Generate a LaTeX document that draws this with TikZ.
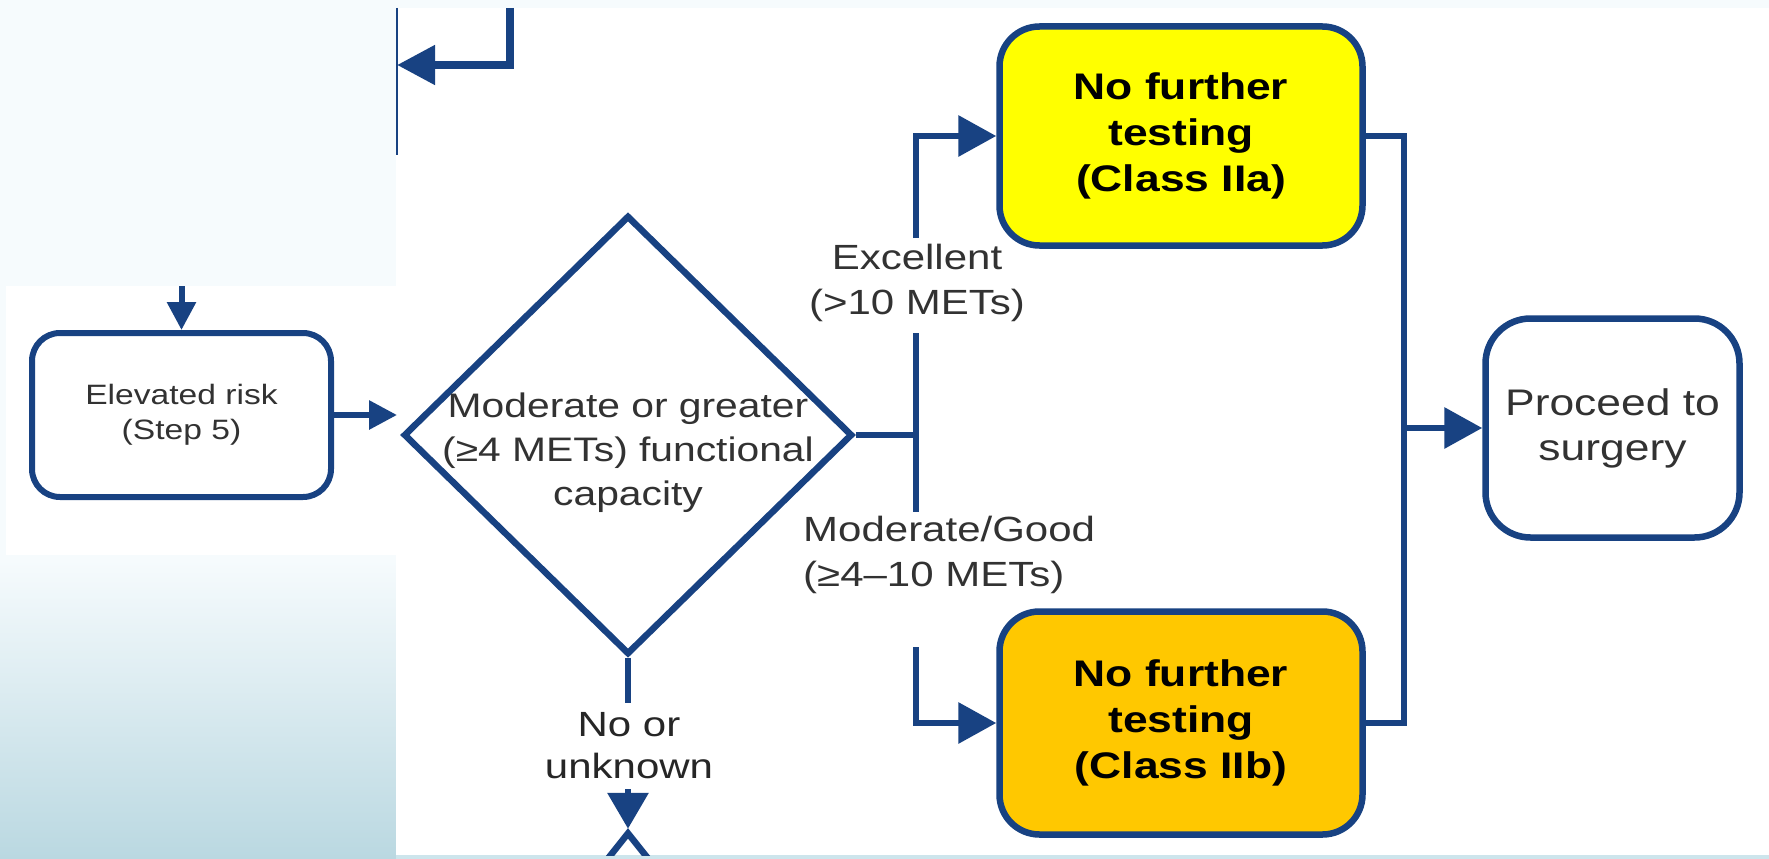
\documentclass[tikz,border=0pt]{standalone}
\usepackage{fontspec}
\setmainfont{Liberation Sans}[FakeStretch=1.2]
\usetikzlibrary{arrows.meta,shapes.geometric}

\definecolor{flow}{RGB}{24,66,130}
\definecolor{ink}{RGB}{50,50,50}
\definecolor{pale}{RGB}{246,251,253}
\definecolor{tealdeep}{RGB}{186,216,225}
\definecolor{teallight}{RGB}{205,229,236}
\definecolor{classIIa}{RGB}{255,255,0}
\definecolor{classIIb}{RGB}{255,200,0}

\tikzset{
  conn/.style={draw=flow, line width=6.5pt, line join=miter},
  connarrow/.style={conn, -{Triangle[length=38pt,width=40pt]}},
  smallarrow/.style={draw=flow, line width=6pt, -{Triangle[length=28pt,width=28pt]}},
  stepbox/.style={draw=flow, line width=6.5pt, rounded corners=40pt, align=center,
    inner sep=0pt, text=ink},
  classbox/.style={stepbox, font=\fontsize{37}{46}\selectfont\bfseries, text=black},
  decision/.style={draw=flow, line width=6.5pt, diamond, inner sep=0pt},
  branchlabel/.style={font=\fontsize{35}{45}\selectfont, text=ink, inner sep=0pt},
}

\begin{document}
\begin{tikzpicture}[x=1pt,y=-1pt]
\useasboundingbox (0,0) rectangle (1769,859);

% slide background and white panels
\fill[pale] (0,0) rectangle (1769,859);
\shade[top color=pale, bottom color=tealdeep] (0,560) rectangle (396,859);
\fill[teallight] (396,855) rectangle (1769,859);
\fill[white] (396,8) rectangle (1769,855);
\fill[white] (6,286) rectangle (396,555);

% boxes
\node[stepbox, line width=6pt, rounded corners=28pt, minimum width=299pt, minimum height=164pt,
  font=\fontsize{28}{35}\selectfont] (risk) at (181.5,415) {Elevated risk\\(Step 5)};

\node[decision, minimum width=449pt, minimum height=439pt] (cap) at (628,435) {};
\node[font=\fontsize{34}{44}\selectfont, text=ink, align=center, inner sep=0pt]
  (captext) at (628,453) {Moderate or greater\\(≥4 METs) functional\\capacity};

\node[classbox, fill=classIIa, minimum width=363pt, minimum height=219pt]
  (yes) at (1181,136) {No further\\testing\\(Class IIa)};
\node[classbox, fill=classIIb, minimum width=363pt, minimum height=223pt]
  (yes2) at (1181,723) {No further\\testing\\(Class IIb)};

\node[stepbox, fill=white, rounded corners=45pt, minimum width=254pt, minimum height=219pt,
  font=\fontsize{37}{45}\selectfont] (surgery) at (1612.5,428) {Proceed to\\surgery};

% next decision, cut off by the panel edge
\begin{scope}
  \clip (396,8) rectangle (1769,855);
  \node[decision, minimum width=356pt, minimum height=446pt] (next) at (628,1055) {};
\end{scope}

% incoming connectors on the left
\coordinate (topin) at (510,8);
\coordinate (prevedge) at (397,65);
\coordinate (prevtop) at (397,8);
\coordinate (prevbot) at (397,155);
\draw[flow, line width=2.5pt] (prevtop) -- (prevbot);
\draw[draw=flow, line width=8pt, line join=miter, -{Triangle[length=38pt,width=38pt]}]
  (topin) |- (prevedge);

\coordinate (riskin) at (181.5,286);
\coordinate (capin) at (397,415);
\draw[smallarrow] (riskin) -- (risk.north);
\draw[smallarrow] (risk.east) -- (capin);

% split after the capacity decision
\coordinate (split) at (916,435);
\coordinate (exclbot) at (916,333);
\coordinate (excltop) at (916,238);
\coordinate (modtop) at (916,512);
\coordinate (modbot) at (916,647);
\draw[conn] (cap.east) -- (split);
\draw[conn] (split) -- (exclbot);
\draw[conn] (split) -- (modtop);
\draw[connarrow] (excltop) |- (yes.west);
\draw[connarrow] (modbot) |- (yes2.west);

% merge into surgery
\coordinate (merge) at (1404,428);
\draw[conn] (yes.east) -| (merge) |- (yes2.east);
\draw[connarrow] (merge) -- (surgery.west);

% no or unknown branch
\coordinate (notop) at (628,703);
\coordinate (nobot) at (628,789);
\draw[conn] (cap.south) -- (notop);
\draw[draw=flow, line width=6.5pt, -{Triangle[length=36pt,width=40pt]}] (nobot) -- (next.north);

% branch labels
\node[branchlabel, align=center] (excl) at (917,283) {Excellent\\(>10 METs)};
\node[branchlabel, align=left, anchor=west] (modg) at (803,555) {Moderate/Good\\(≥4–10 METs)};
\node[branchlabel, align=center, font=\fontsize{35}{42}\selectfont, text=black!85]
  (noun) at (629,746) {No or\\unknown};
\end{tikzpicture}
\end{document}
